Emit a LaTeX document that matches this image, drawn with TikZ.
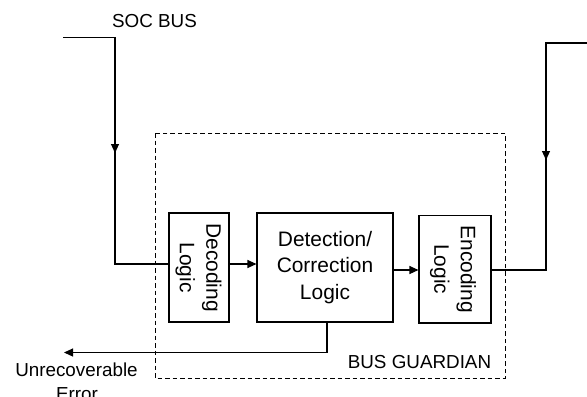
\documentclass[tikz,border=0pt]{standalone}
\usepackage{fontspec}
\setmainfont{Liberation Sans}
\usetikzlibrary{arrows.meta}

\tikzset{
  wire/.style={line width=1.1bp, black},
  arr/.style={wire, -{Triangle[length=9bp,width=8bp]}},
  block/.style={draw, line width=1.1bp, inner sep=0pt},
  blocktext/.style={font=\fontsize{21}{26.7}\selectfont, align=center, inner sep=0pt},
  label/.style={font=\fontsize{18.9}{24}\selectfont, inner sep=0pt},
  guardian/.style={draw, line width=1bp, dash pattern=on 4.5bp off 3bp}
}

\begin{document}
\begin{tikzpicture}[x=1bp, y=-1bp]
  \useasboundingbox (0,0) rectangle (587,396);

  % bus guardian enclosure
  \draw[guardian] (155,133) rectangle (505,378);
  \node[label, anchor=base] (bgl) at (419.5,368.3) {BUS GUARDIAN};

  % processing blocks
  \node[block, minimum width=60bp, minimum height=109bp] (dec) at (199,267.5) {};
  \node[blocktext, rotate=-90] (dect) at (198.5,267.5) {Decoding\\Logic};

  \node[block, minimum width=136bp, minimum height=109bp] (det) at (325,267.5) {};
  \node[blocktext] (dett) at (det.center) {Detection/\\Correction\\Logic};

  \node[block, minimum width=72bp, minimum height=107.5bp] (enc) at (455,269.25) {};
  \node[blocktext, rotate=-90] (enct) at (453,269.25) {Encoding\\Logic};

  % incoming SoC bus
  \node[label, anchor=base] (socl) at (154.5,27.3) {SOC BUS};
  \coordinate (socA) at (63,37.5);
  \coordinate (socB) at (115,37.5);
  \coordinate (socArr) at (115,153);
  \coordinate (socC) at (115,264);
  \draw[wire] (socA) -- (socB) -- (socC) -- (dec.west |- socC);
  \draw[arr] (socB) -- (socArr);

  % block chain
  \coordinate (midL) at (0,264);
  \coordinate (midR) at (0,270);
  \draw[arr] (dec.east |- midL) -- (det.west |- midL);
  \draw[arr] (det.east |- midR) -- (enc.west |- midR);

  % outgoing SoC bus
  \coordinate (outA) at (546,270);
  \coordinate (outB) at (546,43);
  \coordinate (outC) at (587,43);
  \coordinate (outArr) at (546,160);
  \draw[wire] (enc.east |- outA) -- (outA) -- (outB) -- (outC);
  \draw[arr] (outB) -- (outArr);

  % unrecoverable error report
  \coordinate (errA) at (327,352.5);
  \coordinate (errTip) at (64,352.5);
  \draw[wire] (det.south -| errA) -- (errA);
  \draw[arr] (errA) -- (errTip);
  \node[label, anchor=base] (errl1) at (76.5,376.5) {Unrecoverable};
  \node[label, anchor=base] (errl2) at (77,400.5) {Error};
\end{tikzpicture}
\end{document}
